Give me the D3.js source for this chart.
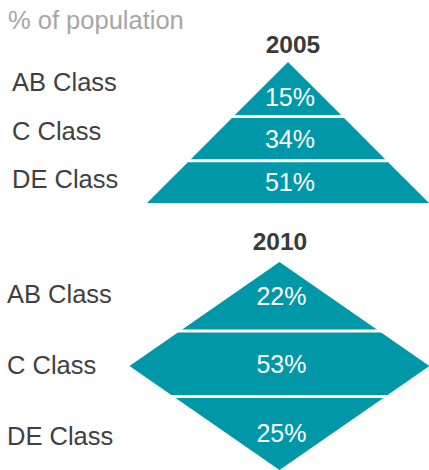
<!DOCTYPE html>
<html>
<head>
<meta charset="utf-8">
<script src="https://cdn.jsdelivr.net/npm/d3@7"></script>
<style>
  body { margin: 0; background: #fff; }
  text { font-family: "Liberation Sans", Arial, sans-serif; }
</style>
</head>
<body>
<div id="chart"></div>
<script>
// data
let classes = ["AB Class", "C Class", "DE Class"];
let years = ["2005", "2010"];
let share2005 = [15, 34, 51];
let share2010 = [22, 53, 25];

let width = 429, height = 470;
let teal = "#0098a8";

let svg = d3.select("#chart").append("svg")
    .attr("width", width)
    .attr("height", height);

svg.append("text")
    .attr("x", 8).attr("y", 29)
    .attr("font-size", 25.5)
    .attr("fill", "#a6a6a6")
    .text("% of population");

// shape profiles: half width (0..1) at height fraction t, and t where the cumulative area hits c
let shapes = {
    pyramid: {
        w: t => t,
        tAt: c => Math.sqrt(c),
        breaks: []
    },
    diamond: {
        w: t => t < 0.5 ? 2 * t : 2 * (1 - t),
        tAt: c => c <= 0.5 ? Math.sqrt(c / 2) : 1 - Math.sqrt((1 - c) / 2),
        breaks: [0.5]
    }
};

let charts = [
    {year: years[0], values: share2005, shape: "pyramid", cx: 288, half: 141, top: 62, bottom: 203,
        yearX: 293, yearY: 53, labelX: 12, labelRange: [91, 188], apexShift: 0.14},
    {year: years[1], values: share2010, shape: "diamond", cx: 279.5, half: 150, top: 262, bottom: 470,
        yearX: 280, yearY: 250, labelX: 7, labelRange: [303, 445], apexShift: 0}
];

charts.forEach(function (c) {
    let shape = shapes[c.shape];
    let x = d3.scaleLinear().domain([-1, 1]).range([c.cx - c.half, c.cx + c.half]);
    let y = d3.scaleLinear().domain([0, 1]).range([c.top, c.bottom]);
    let rowY = d3.scalePoint().domain(classes).range(c.labelRange);

    let total = d3.sum(c.values);
    let cum = d3.cumsum(c.values).map(v => v / total);
    let segs = c.values.map(function (v, i) {
        let c0 = i === 0 ? 0 : cum[i - 1];
        return {value: v, name: classes[i], t0: shape.tAt(c0), t1: shape.tAt(cum[i])};
    });

    let g = svg.append("g");

    g.append("text")
        .attr("x", c.yearX).attr("y", c.yearY)
        .attr("text-anchor", "middle")
        .attr("font-size", 24.5)
        .attr("font-weight", "bold")
        .attr("fill", "#3a3a3a")
        .text(c.year);

    let line = d3.line().x(d => x(d[0])).y(d => y(d[1]));

    g.selectAll(".seg")
        .data(segs)
        .enter()
        .append("path")
        .attr("class", "seg")
        .attr("fill", teal)
        .attr("d", function (d) {
            let ts = [d.t0].concat(shape.breaks.filter(b => b > d.t0 && b < d.t1), [d.t1]);
            let left = ts.map(t => [-shape.w(t), t]);
            let right = ts.slice().reverse().map(t => [shape.w(t), t]);
            return line(left.concat(right)) + "Z";
        });

    // white separators between segments
    g.selectAll(".sep")
        .data(segs.slice(1))
        .enter()
        .append("line")
        .attr("class", "sep")
        .attr("x1", d => x(-shape.w(d.t0)) - 3)
        .attr("x2", d => x(shape.w(d.t0)) + 3)
        .attr("y1", d => y(d.t0))
        .attr("y2", d => y(d.t0))
        .attr("stroke", "#fff")
        .attr("stroke-width", 3);

    // text baseline: middle of the segment, pushed down in a narrow apex
    function midY(d) {
        let h = y(d.t1) - y(d.t0);
        let m = (y(d.t0) + y(d.t1)) / 2;
        if (shape.w(d.t0) === 0) m += h * c.apexShift;
        return m;
    }

    g.selectAll(".pct")
        .data(segs)
        .enter()
        .append("text")
        .attr("class", "pct")
        .attr("x", c.cx + 2)
        .attr("y", d => midY(d) + 9)
        .attr("text-anchor", "middle")
        .attr("font-size", 25)
        .attr("fill", "#fff")
        .text(d => d.value + "%");

    g.selectAll(".cls")
        .data(segs)
        .enter()
        .append("text")
        .attr("class", "cls")
        .attr("x", c.labelX)
        .attr("y", d => rowY(d.name))
        .attr("font-size", 25.5)
        .attr("fill", "#404040")
        .text(d => d.name);
});
</script>
</body>
</html>
